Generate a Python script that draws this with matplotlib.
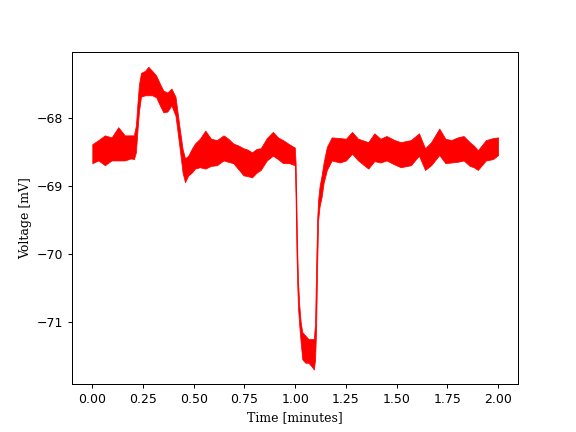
import matplotlib
matplotlib.use("Agg")
import matplotlib.pyplot as plt
import numpy as np

# Time (minutes) and envelope of the voltage trace (mV)
time_min = [0.000, 0.030, 0.062, 0.095, 0.128, 0.160, 0.190, 0.205, 0.215, 0.222,
            0.230, 0.240, 0.260, 0.276, 0.295, 0.315, 0.335, 0.350, 0.370, 0.390,
            0.410, 0.430, 0.445, 0.457, 0.473, 0.490, 0.506, 0.530, 0.557, 0.585,
            0.614, 0.647, 0.670, 0.695, 0.720, 0.745, 0.765, 0.787, 0.810, 0.830,
            0.860, 0.890, 0.915, 0.940, 0.970, 0.998, 1.002, 1.006, 1.010, 1.014,
            1.020, 1.027, 1.035, 1.050, 1.065, 1.080, 1.092, 1.098, 1.103, 1.108,
            1.113, 1.120, 1.130, 1.140, 1.156, 1.180, 1.220, 1.250, 1.280, 1.310,
            1.360, 1.390, 1.420, 1.450, 1.490, 1.520, 1.570, 1.610, 1.640, 1.670,
            1.710, 1.740, 1.770, 1.800, 1.830, 1.860, 1.880, 1.900, 1.940, 1.975,
            2.000]

upper_mv = [-68.38, -68.32, -68.25, -68.28, -68.13, -68.25, -68.25, -68.25, -68.10, -67.80,
            -67.50, -67.33, -67.30, -67.24, -67.30, -67.37, -67.50, -67.59, -67.62, -67.56,
            -67.68, -68.13, -68.45, -68.59, -68.55, -68.45, -68.37, -68.30, -68.18, -68.30,
            -68.32, -68.25, -68.30, -68.37, -68.40, -68.44, -68.46, -68.50, -68.45, -68.44,
            -68.29, -68.20, -68.28, -68.32, -68.38, -68.43, -68.65, -69.30, -69.95, -70.40,
            -70.75, -71.00, -71.15, -71.20, -71.25, -71.25, -71.25, -71.00, -70.20, -69.50,
            -69.20, -69.00, -68.84, -68.65, -68.42, -68.28, -68.29, -68.30, -68.20, -68.30,
            -68.35, -68.22, -68.30, -68.26, -68.32, -68.35, -68.32, -68.22, -68.44, -68.35,
            -68.15, -68.30, -68.32, -68.28, -68.26, -68.35, -68.40, -68.47, -68.32, -68.29,
            -68.28]

lower_mv = [-68.66, -68.62, -68.69, -68.62, -68.62, -68.62, -68.59, -68.60, -68.50, -68.20,
            -67.90, -67.68, -67.66, -67.66, -67.66, -67.69, -67.82, -67.91, -67.90, -67.81,
            -67.96, -68.43, -68.80, -68.94, -68.84, -68.80, -68.74, -68.72, -68.74, -68.70,
            -68.69, -68.62, -68.64, -68.66, -68.75, -68.84, -68.85, -68.87, -68.80, -68.76,
            -68.62, -68.55, -68.60, -68.66, -68.66, -68.69, -69.20, -69.95, -70.45, -70.80,
            -71.05, -71.30, -71.55, -71.60, -71.60, -71.65, -71.70, -71.55, -71.10, -70.20,
            -69.50, -69.30, -69.16, -68.95, -68.76, -68.62, -68.65, -68.62, -68.52, -68.62,
            -68.74, -68.63, -68.65, -68.62, -68.68, -68.72, -68.69, -68.55, -68.76, -68.69,
            -68.54, -68.66, -68.65, -68.64, -68.62, -68.70, -68.72, -68.76, -68.62, -68.60,
            -68.54]

fig, ax = plt.subplots(figsize=(6.4, 4.8), dpi=90)
ax.fill_between(time_min, lower_mv, upper_mv, color="red", linewidth=0.6, edgecolor="red")

ax.set_xlabel("Time [minutes]", family="DejaVu Serif")
ax.set_ylabel("Voltage [mV]", family="DejaVu Serif")
ax.set_xticks(np.arange(0, 2.01, 0.25))
ax.set_yticks([-71, -70, -69, -68])
ax.set_xlim(-0.1, 2.1)
ax.set_ylim(-71.92, -67.02)

fig.savefig("out.png", dpi=90)
